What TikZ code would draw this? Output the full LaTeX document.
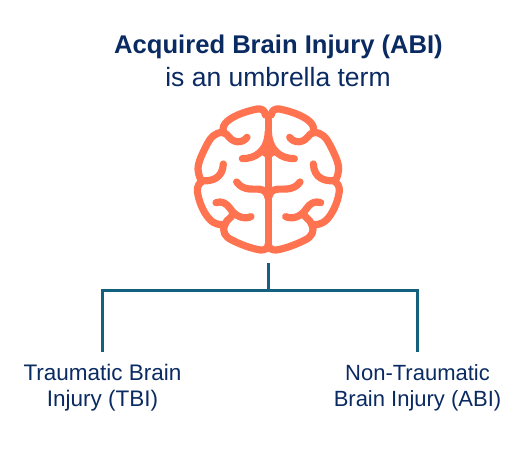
\documentclass[tikz,border=0pt]{standalone}
\usepackage{fontspec}
\setmainfont{Liberation Sans}
\definecolor{navy}{HTML}{0A2A62}
\definecolor{teal}{HTML}{14607F}
\definecolor{coral}{HTML}{FF7350}
\tikzset{
  lbl/.style={text=navy,font=\fontsize{22.5}{26}\selectfont,align=center,inner sep=0pt},
  conn/.style={draw=teal,line width=3pt},
  brainline/.style={draw=coral,line width=7.2pt,line cap=round,line join=round}
}
\newcommand{\halfbrain}{
  \draw[brainline] (256,75) .. controls (256,62) and (245,55) .. (232,57)
    .. controls (190,65) and (150,82) .. (136,100)
    .. controls (128,110) and (128,120) .. (130,128)
    .. controls (105,125) and (90,145) .. (80,165)
    .. controls (65,195) and (50,225) .. (55,245)
    .. controls (57,260) and (62,268) .. (65,275)
    .. controls (50,285) and (50,300) .. (55,320)
    .. controls (62,350) and (80,385) .. (100,397)
    .. controls (115,405) and (125,405) .. (135,403)
    .. controls (125,425) and (135,440) .. (155,450)
    .. controls (190,468) and (225,478) .. (242,480)
    .. controls (255,481) and (265,475) .. (265,462);
  \draw[brainline] (130,128) .. controls (145,130) and (145,150) .. (170,155)
    .. controls (185,157) and (195,150) .. (201,142);
  \draw[brainline] (65,272) .. controls (95,275) and (128,265) .. (130,222);
  \draw[brainline] (108,338) .. controls (125,332) and (140,340) .. (150,355)
    .. controls (165,378) and (190,390) .. (213,380);
  \draw[brainline] (135,403) .. controls (142,385) and (155,385) .. (158,372);
  \draw[brainline] (187,206) .. controls (225,206) and (262,185) .. (265,125);
  \draw[brainline] (170,276) .. controls (190,305) and (225,295) .. (240,298)
    .. controls (255,300) and (262,310) .. (265,325);
  \fill[coral] (265,135) -- (240,192) .. controls (252,198) and (262,205) .. (265,218) -- cycle;
}
\begin{document}
\begin{tikzpicture}[x=1pt,y=-1pt]
\useasboundingbox (0,0) rectangle (525,455);
\fill[white] (0,0) rectangle (525,455);
\node[lbl,font=\fontsize{25.6}{28}\selectfont\bfseries] (title) at (278.5,47) {Acquired Brain Injury (ABI)};
\node[lbl,font=\fontsize{26.5}{28}\selectfont] (sub) at (278,77) {is an umbrella term};
\begin{scope}[shift={(180,90)},x=0.3333pt,y=-0.3333pt]
  \halfbrain
  \begin{scope}[xshift=176.67pt,xscale=-1]
    \halfbrain
  \end{scope}
  \draw[brainline] (265,75) -- (265,465);
\end{scope}
\coordinate (stem) at (268,263);
\coordinate (joint) at (268,290);
\coordinate (ljoint) at (102,290);
\coordinate (rjoint) at (417,290);
\coordinate (lend) at (102,352);
\coordinate (rend) at (417,352);
\draw[conn] (stem) -- (joint);
\draw[conn,line join=miter] (lend) -- (ljoint) -- (rjoint) -- (rend);
\node[lbl] (tbi) at (102.5,388) {Traumatic Brain\\Injury (TBI)};
\node[lbl,font=\fontsize{22}{26}\selectfont] (nontbi) at (417.5,388) {Non-Traumatic\\Brain Injury (ABI)};
\end{tikzpicture}
\end{document}
